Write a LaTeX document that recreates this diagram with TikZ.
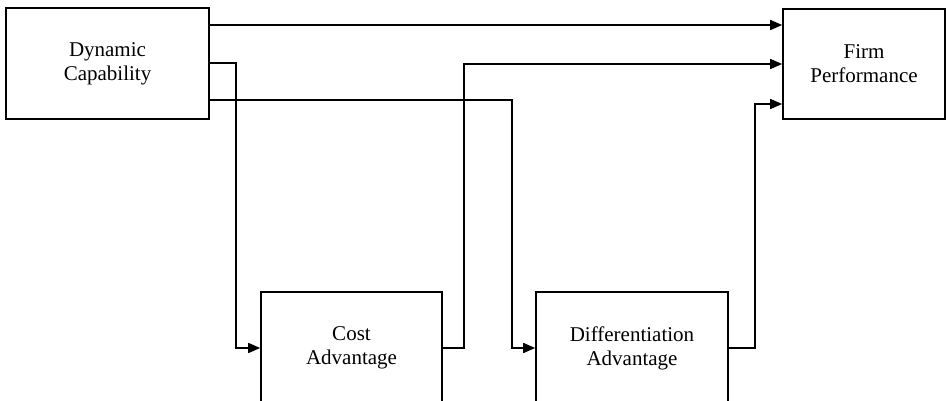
\documentclass[tikz,border=0pt]{standalone}
\usepackage{fontspec}
\setmainfont{Liberation Serif}
\usetikzlibrary{arrows.meta}
\begin{document}
\begin{tikzpicture}[x=1pt,y=-1pt,
  box/.style={draw, line width=1.6pt, inner sep=0pt, align=center,
    font=\fontsize{21}{24}\selectfont},
  link/.style={line width=1.6pt},
  arr/.style={link, -{Triangle[length=12pt,width=10pt]}}]
\useasboundingbox (0,0) rectangle (947,401);
\clip (0,0) rectangle (947,401);
\node[box, minimum width=203pt, minimum height=111pt] (dc) at (107.5,63.5) {Dynamic\\Capability};
\node[box, minimum width=162pt, minimum height=110pt] (fp) at (864,64) {Firm\\Performance};
\node[box, minimum width=181pt, minimum height=112pt] (ca) at (351.5,348) {Cost\\Advantage};
\node[box, minimum width=192pt, minimum height=112pt] (da) at (632,348) {Differentiation\\Advantage};
\coordinate (k1) at (236,348);
\coordinate (k2) at (512,348);
\coordinate (k3) at (464,64);
\coordinate (k4) at (755,104);
\draw[arr] (dc.east |- 0,25) -- (fp.west |- 0,25);
\draw[arr] (dc.east |- 0,63) -| (k1) -- (ca.west);
\draw[arr] (dc.east |- 0,100) -| (k2) -- (da.west);
\draw[arr] (ca.east) -| (k3) -- (fp.west |- k3);
\draw[arr] (da.east) -| (k4) -- (fp.west |- k4);
\end{tikzpicture}
\end{document}
